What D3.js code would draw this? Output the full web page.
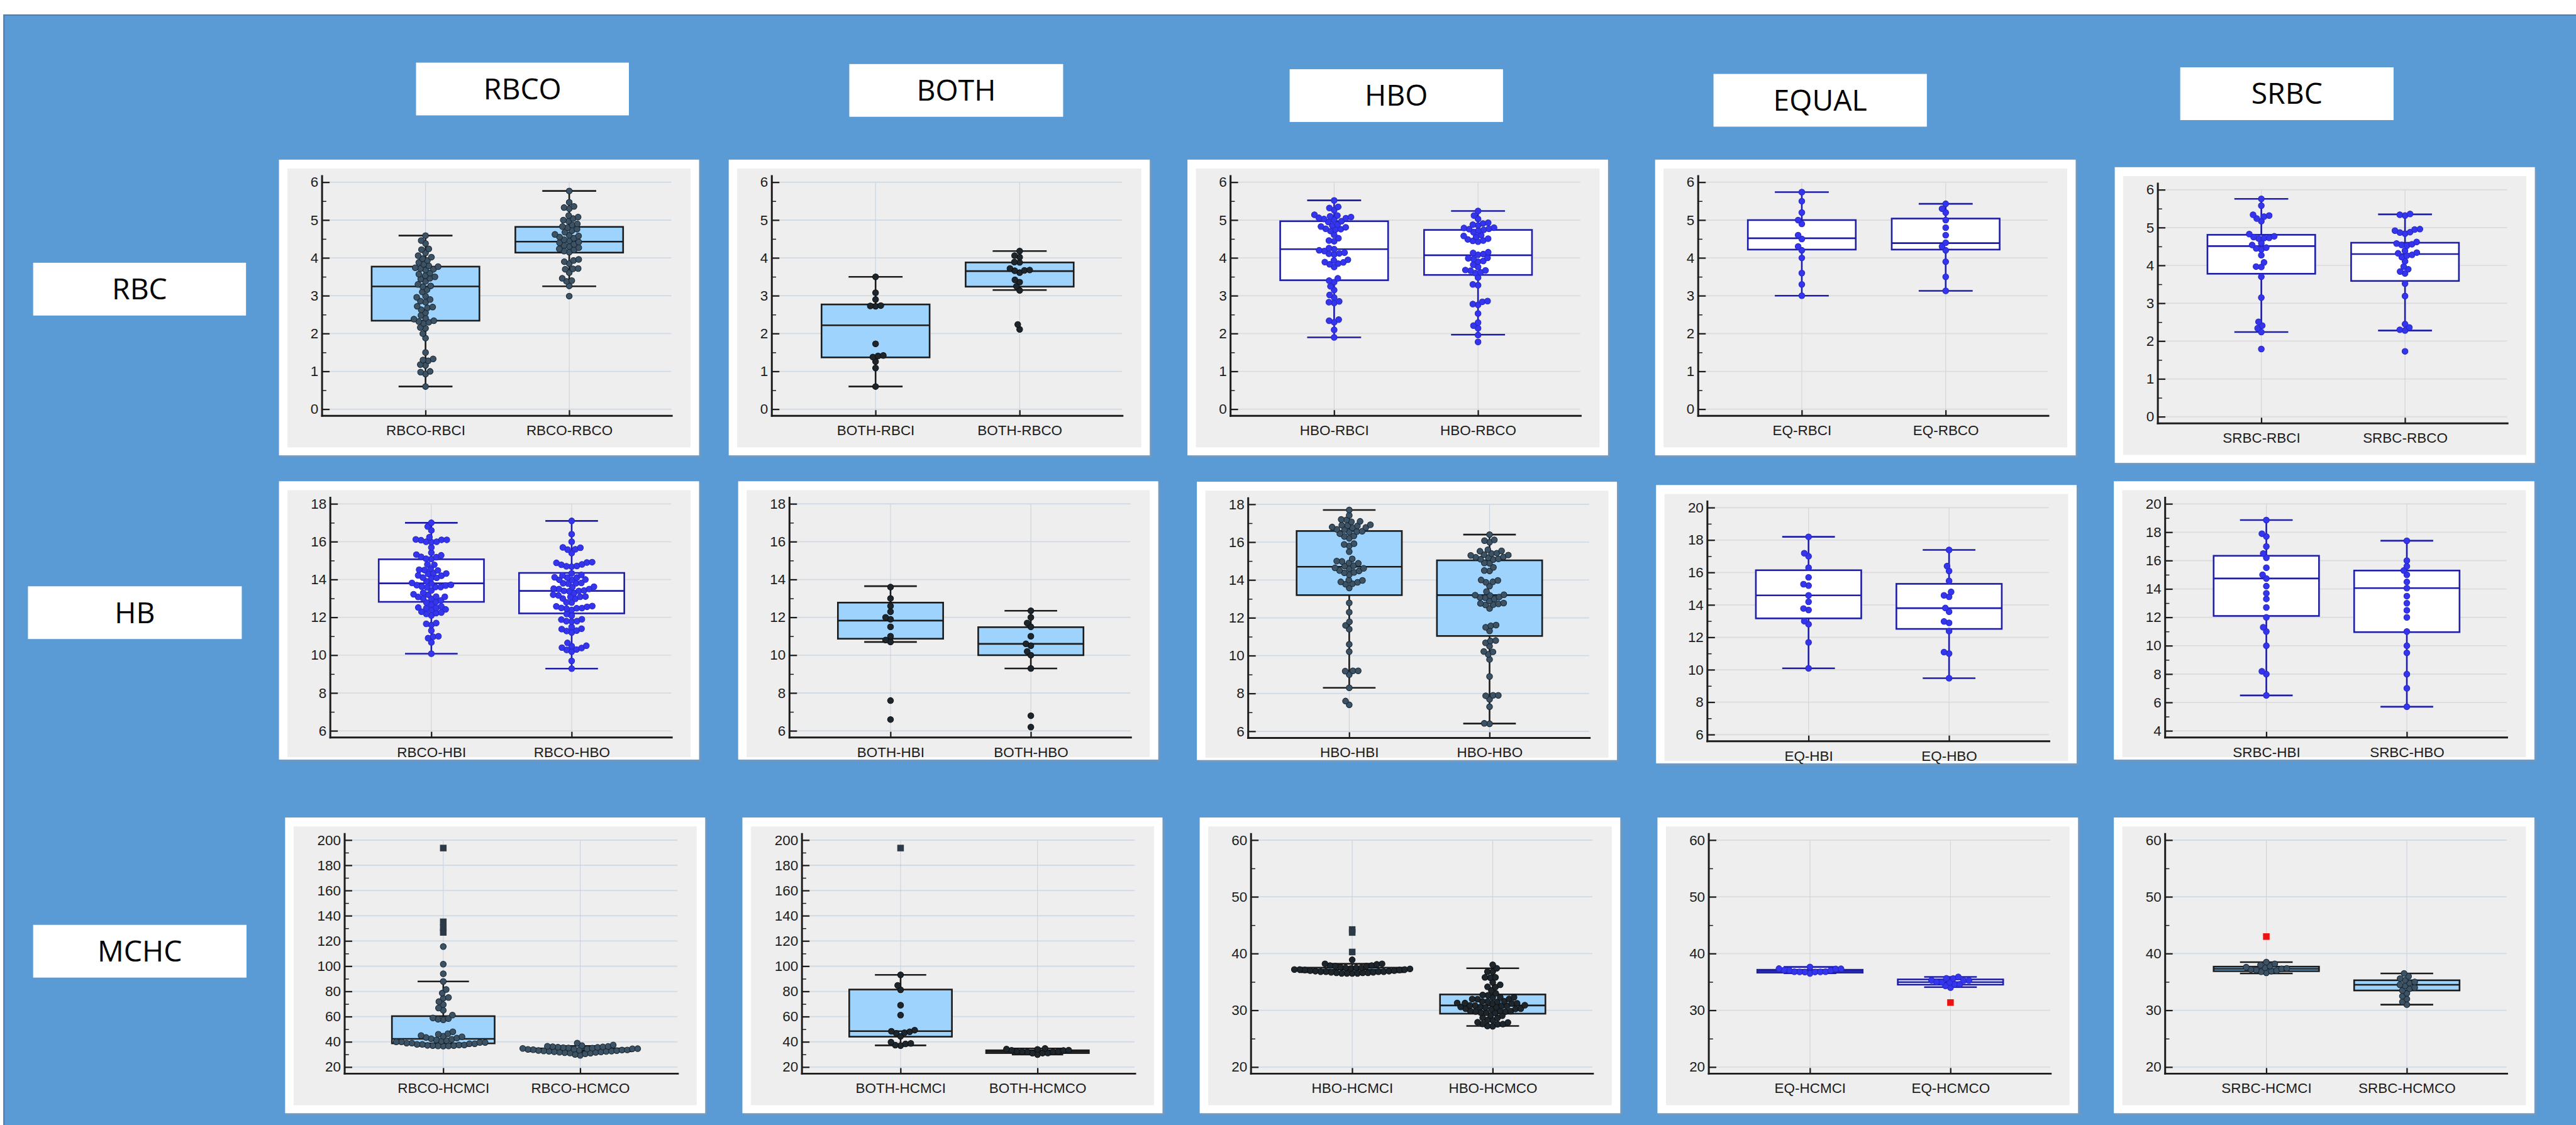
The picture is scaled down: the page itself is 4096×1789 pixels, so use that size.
<!DOCTYPE html>
<html>
<head>
<meta charset="utf-8">
<script src="https://cdn.jsdelivr.net/npm/d3@7"></script>
<style>
body{margin:0;background:#fff;overflow:hidden}
</style>
</head>
<body>
<script>
// ---- headers and categories
var colHeaders=["RBCO","BOTH","HBO","EQUAL","SRBC"];
var rowHeaders=["RBC","HB","MCHC"];
var prefixes=["RBCO","BOTH","HBO","EQ","SRBC"];
var suffixes=[["RBCI","RBCO"],["HBI","HBO"],["HCMCI","HCMCO"]];

// ---- y tick labels
var ticksRbc=[0,1,2,3,4,5,6];
var ticksHb=[6,8,10,12,14,16,18];
var ticksHbEq=[6,8,10,12,14,16,18,20];
var ticksHbSrbc=[4,6,8,10,12,14,16,18,20];
var ticksMchcWide=[20,40,60,80,100,120,140,160,180,200];
var ticksMchc=[20,30,40,50,60];

// ---- box stats: [low whisker, q1, median, q3, high whisker]
var rbcoRbcBox=[[0.6,2.34,3.245,3.77,4.59],[3.25,4.14,4.43,4.82,5.77]];
var bothRbcBox=[[0.6,1.37,2.22,2.77,3.5],[3.15,3.24,3.65,3.88,4.18]];
var hboRbcBox=[[1.9,3.41,4.23,4.97,5.52],[1.97,3.55,4.07,4.74,5.24]];
var eqRbcBox=[[3.0,4.22,4.52,5.0,5.74],[3.13,4.22,4.39,5.04,5.43]];
var srbcRbcBox=[[2.24,3.78,4.51,4.81,5.76],[2.28,3.59,4.3,4.6,5.35]];

var rbcoHbBox=[[10.08,12.82,13.8,15.07,17.0],[9.29,12.21,13.4,14.35,17.1]];
var bothHbBox=[[10.7,10.87,11.83,12.78,13.65],[9.3,10.0,10.6,11.48,12.35]];
var hboHbBox=[[8.3,13.2,14.7,16.59,17.7],[6.41,11.04,13.2,15.04,16.4]];
var eqHbBox=[[10.09,13.17,14.59,16.14,18.2],[9.48,12.52,13.8,15.3,17.39]];
var srbcHbBox=[[6.5,12.1,14.74,16.34,18.86],[5.7,10.96,14.06,15.3,17.4]];

var rbcoMchcBox=[[36.8,38.8,42.4,60.4,87.9],[31.4,32.5,33.4,34.8,36.8]];
var bothMchcBox=[[37.2,44.1,48.5,81.5,93.1],[29.9,31.1,32.2,33.3,34.8]];
var hboMchcBox=[[36.5,36.72,37.17,37.52,38.2],[27.24,29.41,30.86,32.8,37.41]];
var eqMchcBox=[[36.54,36.64,36.9,37.15,37.65],[34.09,34.53,34.97,35.45,35.89]];
var srbcMchcBox=[[36.5,36.9,37.3,37.7,38.5],[31.0,33.5,34.5,35.3,36.5]];

// ---- individual values
var rbcoRbcPts=[
[4.59,4.46,4.38,4.24,4.22,4.13,4.06,4.02,3.98,3.93,3.88,3.83,3.79,3.77,3.74,3.72,3.7,3.68,3.6,3.57,3.53,3.5,3.46,3.44,3.38,3.3,3.26,3.24,3.16,3.1,2.99,2.96,2.9,2.86,2.83,2.72,2.7,2.68,2.63,2.55,2.48,2.41,2.38,2.34,2.32,2.3,2.27,2.16,2.14,2.0,1.88,1.5,1.33,1.3,1.28,1.18,1.16,1.0,0.98,0.93,0.6],
[5.77,5.47,5.36,5.33,5.3,5.12,5.08,5.04,5.0,4.97,4.9,4.87,4.83,4.8,4.76,4.72,4.68,4.62,4.6,4.58,4.55,4.52,4.48,4.45,4.42,4.4,4.36,4.33,4.3,4.27,4.24,4.21,4.18,4.15,3.96,3.93,3.9,3.85,3.72,3.71,3.7,3.61,3.46,3.4,3.38,3.26,2.99]];
var bothRbcPts=[
[3.5,3.08,2.9,2.73,2.72,2.74,1.73,1.42,1.41,1.38,1.26,1.09,0.6],
[4.18,4.06,4.02,3.89,3.88,3.72,3.68,3.67,3.66,3.61,3.42,3.36,3.25,3.14,2.24,2.11]];
var hboRbcPts=[
[5.52,5.35,5.32,5.26,5.14,5.12,5.1,5.08,5.06,5.05,5.03,5.01,4.97,4.95,4.88,4.86,4.83,4.81,4.77,4.76,4.75,4.71,4.61,4.52,4.46,4.44,4.26,4.23,4.2,4.18,4.14,4.12,4.11,4.09,3.95,3.93,3.89,3.88,3.85,3.83,3.76,3.46,3.4,3.36,3.25,3.15,3.02,2.95,2.85,2.83,2.81,2.37,2.34,2.3,2.1,1.9],
[5.24,5.12,5.03,4.93,4.91,4.88,4.86,4.8,4.79,4.77,4.76,4.74,4.72,4.68,4.6,4.58,4.56,4.51,4.49,4.46,4.45,4.43,4.15,4.13,4.1,4.08,4.0,3.99,3.97,3.92,3.9,3.82,3.76,3.68,3.67,3.66,3.62,3.6,3.48,3.3,3.28,2.86,2.84,2.78,2.76,2.53,2.29,2.21,2.14,1.96,1.78]];
var eqRbcPts=[
[5.74,5.5,5.2,5.0,4.9,4.6,4.5,4.3,4.2,4.0,3.6,3.3,3.0],
[5.43,5.3,5.2,5.0,4.8,4.6,4.4,4.3,4.2,3.9,3.5,3.13]];
var srbcRbcPts=[
[5.76,5.58,5.34,5.32,5.29,5.24,5.17,4.83,4.77,4.75,4.72,4.71,4.73,4.59,4.54,4.47,4.45,4.42,4.27,4.08,3.97,3.96,3.7,3.15,2.51,2.41,2.34,2.24,1.79],
[5.36,5.34,5.32,4.96,4.95,4.92,4.88,4.87,4.84,4.62,4.58,4.56,4.54,4.52,4.39,4.34,4.32,4.28,4.26,4.22,4.11,3.97,3.9,3.84,3.79,3.52,3.19,2.45,2.36,2.3,2.28,1.73]];

var rbcoHbPts=[
[17.0,16.8,16.6,16.24,16.12,16.1,16.1,16.08,16.0,16.0,15.98,15.7,15.42,15.32,15.28,15.2,15.18,15.1,15.08,14.8,14.78,14.58,14.52,14.5,14.48,14.34,14.32,14.3,14.22,14.2,14.1,14.09,14.08,13.9,13.82,13.78,13.72,13.7,13.68,13.62,13.6,13.6,13.58,13.42,13.3,13.22,13.2,13.1,13.09,13.08,13.0,12.98,12.9,12.82,12.78,12.68,12.58,12.52,12.5,12.48,12.42,12.4,12.3,12.26,12.22,12.18,12.1,11.7,11.66,11.59,11.3,11.0,10.98,10.9,10.68,10.08],
[17.1,16.4,16.0,15.7,15.68,15.6,15.58,15.4,14.92,14.9,14.88,14.8,14.78,14.72,14.7,14.68,14.33,14.24,14.22,14.12,14.1,14.1,14.0,13.99,13.98,13.82,13.8,13.8,13.78,13.62,13.6,13.52,13.5,13.5,13.42,13.4,13.4,13.38,13.28,13.2,13.16,13.1,13.09,13.08,13.0,12.98,12.8,12.78,12.6,12.58,12.56,12.5,12.49,12.48,12.46,12.39,12.18,12.09,11.9,11.88,11.8,11.8,11.78,11.49,11.4,11.38,11.3,11.28,11.2,10.65,10.5,10.48,10.4,10.38,10.3,10.28,10.19,9.7,9.29]];
var bothHbPts=[
[13.6,13.0,12.6,12.3,12.0,11.9,11.5,11.0,10.8,10.7,7.6,6.6],
[12.35,12.0,11.7,11.5,11.0,10.6,10.5,10.2,10.0,9.3,6.8,6.2]];
var hboHbPts=[
[17.7,17.42,17.2,17.18,17.1,17.08,16.92,16.9,16.88,16.86,16.8,16.78,16.76,16.68,16.66,16.58,16.56,16.54,16.45,16.33,16.3,16.2,15.92,15.88,15.8,15.5,15.12,15.0,14.98,14.9,14.88,14.76,14.74,14.64,14.62,14.6,14.5,14.48,14.4,14.38,14.28,14.0,13.98,13.9,13.88,13.8,13.78,13.58,12.79,12.3,11.79,11.6,11.4,10.6,10.21,9.2,9.2,9.18,9.0,8.3,7.6,7.4],
[16.4,16.12,16.08,16.0,15.6,15.54,15.52,15.42,15.4,15.34,15.32,15.3,15.22,15.2,15.18,15.12,15.1,15.08,14.9,14.88,14.67,14.5,14.48,14.0,13.98,13.9,13.88,13.68,13.39,13.22,13.2,13.18,13.1,13.08,13.06,13.0,12.89,12.78,12.76,12.74,12.7,12.68,12.5,11.62,11.58,11.5,11.31,10.8,10.78,10.68,10.5,10.22,10.2,10.07,9.8,8.9,7.9,7.9,7.88,7.69,7.3,6.42,6.4]];
var eqHbPts=[
[18.2,17.19,17.0,16.3,15.7,15.28,15.19,14.59,14.19,13.78,13.69,13.0,12.81,11.69,10.09],
[17.39,16.39,16.09,15.48,14.8,14.59,14.5,13.81,13.58,12.98,12.89,12.39,11.09,11.0,9.48]];
var srbcHbPts=[
[18.86,17.9,17.7,17.0,16.5,16.2,15.5,15.0,14.74,14.2,13.7,13.3,12.7,12.0,11.3,11.0,10.0,8.2,8.0,6.5],
[17.4,16.0,15.6,15.3,15.0,14.5,14.06,13.5,13.0,12.5,12.0,11.0,10.0,9.5,8.0,7.0,5.7]];

var rbcoMchcPts=[
[115.6,101.6,94.0,87.9,81.5,78.7,75.2,74.6,71.9,69.6,66.8,65.0,61.2,59.0,58.5,58.0,57.5,48,46.5,46,45,44.5,44,43.5,43,42.5,42,41.5,41,40.5,40,40,39.5,39.5,39,39,38.5,38.5,38,38,37.5,37.5,37.2,37,37,36.8,36.8,36.6],
[39,37.5,37,36.5,36.4,36.2,36,35.8,35.6,35.4,35.2,35,34.8,34.6,34.5,34.4,34.2,34,33.8,33.6,33.5,33.4,33.2,33,32.8,32.6,32.5,32.4,32.2,32,31.8,31.6,31.4,31.2,31,30.5,30,29.3]];
var bothMchcPts=[
[93.1,84.8,81.3,69.1,61.2,49.3,48.4,48.0,47.2,46.8,44.4,39.8,38.8,38.4,37.4,37.0],
[34.8,34.3,34.1,33.4,33.3,33.2,32.4,32.3,32.2,32.1,32.0,31.2,31.1,31.0,29.9]];
var hboMchcPts=[
[38.9,38.2,38.2,38.1,37.9,37.9,37.8,37.8,37.6,37.5,37.5,37.5,37.4,37.3,37.2,37.2,37.2,37.1,37.1,37.0,37.0,36.9,36.9,36.8,36.8,36.8,36.8,36.7,36.7,36.6,36.6,36.6,36.5,36.5,36.5,36.5],
[38.03,37.41,36.8,36.8,35.8,35.8,35.75,34.93,34.5,34.14,34.1,33.5,33.0,32.7,32.65,32.3,32.28,32.25,32.0,31.98,31.95,31.6,31.58,31.55,31.5,31.3,31.28,31.25,31.2,31.18,30.9,30.88,30.85,30.8,30.78,30.6,30.58,30.55,30.5,30.3,30.28,30.25,30.2,29.9,29.88,29.85,29.8,29.78,29.6,29.58,29.55,29.1,29.05,28.7,28.65,28.3,28.25,27.9,27.85,27.6,27.58,27.55,27.24,27.2]];
var eqMchcPts=[
[37.65,37.35,37.32,37.3,37.08,37.06,37.04,36.8,36.8,36.78,36.78,36.76,36.74,36.5],
[35.9,35.65,35.62,35.3,35.28,35.25,34.97,34.95,34.93,34.6,34.58,34.3,34.0]];
var srbcMchcPts=[
[38.5,38.2,38.0,37.8,37.6,37.5,37.4,37.3,37.2,37.1,37.0,36.9,36.8,36.6],
[36.5,36.0,35.6,35.3,35.0,34.8,34.5,34.3,34.0,33.8,33.5,33.0,32.5,32.0,31.5,31.0]];

// ---- outliers
var rbcoMchcOut=[[193.7,135.2,130.6,126.8],[]];
var bothMchcOut=[[193.7],[]];
var hboMchcOut=[[44.24,43.72,40.28],[]];
var eqMchcOut=[[],[31.37]];
var srbcMchcOut=[[43.0],[]];
var noOut=[[],[]];

// ---- tables built from the arrays above
var boxes=[[rbcoRbcBox,bothRbcBox,hboRbcBox,eqRbcBox,srbcRbcBox],
           [rbcoHbBox,bothHbBox,hboHbBox,eqHbBox,srbcHbBox],
           [rbcoMchcBox,bothMchcBox,hboMchcBox,eqMchcBox,srbcMchcBox]];
var points=[[rbcoRbcPts,bothRbcPts,hboRbcPts,eqRbcPts,srbcRbcPts],
            [rbcoHbPts,bothHbPts,hboHbPts,eqHbPts,srbcHbPts],
            [rbcoMchcPts,bothMchcPts,hboMchcPts,eqMchcPts,srbcMchcPts]];
var outliers=[[noOut,noOut,noOut,noOut,noOut],
              [noOut,noOut,noOut,noOut,noOut],
              [rbcoMchcOut,bothMchcOut,hboMchcOut,eqMchcOut,srbcMchcOut]];
var ticks=[[ticksRbc,ticksRbc,ticksRbc,ticksRbc,ticksRbc],
           [ticksHb,ticksHb,ticksHb,ticksHbEq,ticksHbSrbc],
           [ticksMchcWide,ticksMchcWide,ticksMchc,ticksMchc,ticksMchc]];

// ---- layout (reference pixel space): card x, y, w, h
var cards=[[[592,339,892,628],[1547,339,894,628],[2521,339,893,628],[3514,339,893,628],[4490,355,892,628]],
           [[592,1022,892,591],[1567,1022,892,591],[2541,1023,892,591],[3516,1030,893,591],[4488,1022,893,591]],
           [[605,1736,892,628],[1576,1736,892,628],[2547,1736,893,628],[3519,1736,893,628],[4488,1736,893,628]]];
var grayBottom=[17,5,17];
var colHeaderBoxes=[[883,133,452,112],[1803,136,454,112],[2738,147,453,112],[3638,157,453,112],[4629,143,453,112]];
var rowHeaderBoxes=[[70,558,452,112],[59,1245,454,112],[70,1964,453,112]];

var panelStyle=[["dark","black","blue","blue","blue"],
                ["blue","black","dark","blue","blue"],
                ["dark","black","black","blue","dark"]];
var styles={
  dark:{fill:"#9dd3fc",stroke:"#1c1c1c",pt:"#3c5366",ptStroke:"#1c2732",grid:"#d2dae3",vgrid:"#c9d3de"},
  black:{fill:"#9dd3fc",stroke:"#1c1c1c",pt:"#1e262d",ptStroke:"#111",grid:"#d2dae3",vgrid:"#c9d3de"},
  blue:{fill:"#ffffff",stroke:"#1e1ea6",pt:"#3535ee",ptStroke:"#2626c8",grid:"#dcdcdc",vgrid:"#d4d4d4"}
};
var outColor=["#2c3a48","#2c3a48","#2c3a48","#ee1111","#ee1111"];
var axisFont="'Liberation Sans', Arial, Helvetica, sans-serif";

var svg=d3.select("body").append("svg")
  .attr("width",4096).attr("height",1789)
  .attr("viewBox","0 0 5469 2389");

svg.append("rect").attr("width",5469).attr("height",2389).attr("fill","#ffffff");
svg.append("rect").attr("x",8).attr("y",32).attr("width",5470).attr("height",2370)
   .attr("fill","#5b9bd5").attr("stroke","#4a7eb0").attr("stroke-width",3);

// header boxes
function header(b,txt){
  svg.append("rect").attr("x",b[0]).attr("y",b[1]).attr("width",b[2]).attr("height",b[3]).attr("fill","#ffffff");
  svg.append("text").attr("x",b[0]+b[2]/2).attr("y",b[1]+b[3]/2)
     .attr("dy","0.35em").attr("text-anchor","middle")
     .attr("font-family","'Open Sans', 'Noto Sans', sans-serif").attr("font-size",62)
     .attr("fill","#000").text(txt);
}
colHeaders.forEach(function(t,i){ header(colHeaderBoxes[i],t); });
rowHeaders.forEach(function(t,i){ header(rowHeaderBoxes[i],t); });

// simple deterministic beeswarm
function swarm(vals,y,d){
  var placed=[];
  vals.slice().sort(d3.ascending).forEach(function(v){
    var py=y(v);
    var near=placed.filter(function(p){return Math.abs(p.y-py)<d;});
    var cands=[0];
    near.forEach(function(p){
      var dx=Math.sqrt(d*d-(p.y-py)*(p.y-py));
      cands.push(p.x+dx,p.x-dx);
    });
    cands.sort(function(a,b){return (Math.abs(a)-Math.abs(b))||(a-b);});
    var x=cands.find(function(c){
      return near.every(function(p){return (p.x-c)*(p.x-c)+(p.y-py)*(p.y-py)>=d*d-0.5;});
    });
    placed.push({v:v,x:x,y:py});
  });
  return placed;
}

function drawPanel(r,c){
  var card=cards[r][c], st=styles[panelStyle[r][c]];
  var tk=ticks[r][c], box=boxes[r][c], pts=points[r][c], outs=outliers[r][c];
  var labels=suffixes[r].map(function(s){return prefixes[c]+"-"+s;});
  var cx=card[0], cy=card[1], cw=card[2], ch=card[3];
  var g=svg.append("g");

  g.append("rect").attr("x",cx+4).attr("y",cy+4).attr("width",cw).attr("height",ch)
   .attr("fill","#7f98b3").attr("opacity",0.7);
  g.append("rect").attr("x",cx).attr("y",cy).attr("width",cw).attr("height",ch).attr("fill","#ffffff");
  g.append("rect").attr("x",cx+18).attr("y",cy+19).attr("width",cw-36).attr("height",ch-19-grayBottom[r])
   .attr("fill","#eeeeee");

  var digits=String(d3.max(tk)).length;
  var ax=cx+18+56+17.5*digits, ae=cx+cw-18-38;
  var top=cy+48, bot=cy+530, xAxisY=bot+14;

  var y=d3.scaleLinear().domain([tk[0],tk[tk.length-1]]).range([bot,top]);
  var x=d3.scalePoint().domain(labels).range([ax,ae]).padding(0.72);
  var bw=x.step()*0.75;
  var step=tk[1]-tk[0];
  var minor=tk.slice(0,-1).map(function(t){return t+step/2;});

  // grid
  g.selectAll(".hg").data(tk).enter().append("line")
   .attr("x1",ax).attr("x2",ae-3).attr("y1",function(d){return y(d);}).attr("y2",function(d){return y(d);})
   .attr("stroke",st.grid).attr("stroke-width",2.5);
  g.selectAll(".vg").data(labels).enter().append("line")
   .attr("x1",function(d){return x(d);}).attr("x2",function(d){return x(d);})
   .attr("y1",top+1).attr("y2",xAxisY)
   .attr("stroke",st.vgrid).attr("stroke-width",1.5);

  // boxes, whiskers, points
  labels.forEach(function(lab,i){
    var b=box[i], xc=x(lab);
    var bg=g.append("g").attr("stroke",st.stroke).attr("stroke-width",3.5);
    bg.append("line").attr("x1",xc).attr("x2",xc).attr("y1",y(b[0])).attr("y2",y(b[4]));
    bg.append("rect").attr("x",xc-bw/2).attr("y",y(b[3])).attr("width",bw).attr("height",Math.max(0.5,y(b[1])-y(b[3])))
      .attr("fill",st.fill);
    bg.append("line").attr("x1",xc-bw/2).attr("x2",xc+bw/2).attr("y1",y(b[2])).attr("y2",y(b[2]));
    bg.append("line").attr("x1",xc-bw/4).attr("x2",xc+bw/4).attr("y1",y(b[0])).attr("y2",y(b[0]));
    bg.append("line").attr("x1",xc-bw/4).attr("x2",xc+bw/4).attr("y1",y(b[4])).attr("y2",y(b[4]));

    var sw=swarm(pts[i],y,11.2);
    g.selectAll(null).data(sw).enter().append("circle")
     .attr("cx",function(d){return xc+d.x;}).attr("cy",function(d){return d.y;}).attr("r",6.3)
     .attr("fill",st.pt).attr("stroke",st.ptStroke).attr("stroke-width",1.4);

    g.selectAll(null).data(outs[i]).enter().append("rect")
     .attr("x",xc-7).attr("y",function(d){return y(d)-7;}).attr("width",14).attr("height",14)
     .attr("fill",outColor[c]);
  });

  // axes
  var yAxis=d3.axisLeft(y).tickValues(tk).tickSizeInner(-16).tickSizeOuter(0).tickPadding(8).tickFormat(d3.format("d"));
  var ya=g.append("g").attr("transform","translate("+ax+",0)").call(yAxis);
  ya.select(".domain").remove();
  ya.attr("font-size",30).attr("font-family",axisFont);
  ya.selectAll(".tick line").attr("stroke","#1c1c1c").attr("stroke-width",3);
  ya.selectAll(".tick text").attr("fill","#1c1c1c");

  var yMinor=d3.axisLeft(y).tickValues(minor).tickSize(-9).tickFormat("");
  var ym=g.append("g").attr("transform","translate("+ax+",0)").call(yMinor);
  ym.select(".domain").remove();
  ym.selectAll(".tick line").attr("stroke","#1c1c1c").attr("stroke-width",2);

  var xAxis=d3.axisBottom(x).tickSizeInner(-12).tickSizeOuter(0).tickPadding(20);
  var xa=g.append("g").attr("transform","translate(0,"+xAxisY+")").call(xAxis);
  xa.select(".domain").remove();
  xa.attr("font-size",30).attr("font-family",axisFont);
  xa.selectAll(".tick line").attr("stroke","#1c1c1c").attr("stroke-width",3);
  xa.selectAll(".tick text").attr("fill","#1c1c1c");

  g.append("line").attr("x1",ax).attr("x2",ax).attr("y1",top-15).attr("y2",xAxisY+2)
   .attr("stroke","#1c1c1c").attr("stroke-width",4);
  g.append("line").attr("x1",ax-2).attr("x2",ae).attr("y1",xAxisY).attr("y2",xAxisY)
   .attr("stroke","#1c1c1c").attr("stroke-width",4);
}

for(var r=0;r<3;r++){
  for(var c=0;c<5;c++){ drawPanel(r,c); }
}
</script>
</body>
</html>
